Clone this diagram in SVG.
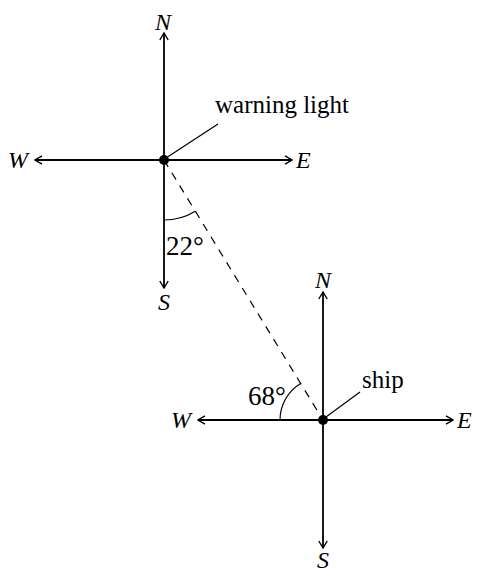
<svg xmlns="http://www.w3.org/2000/svg" width="477" height="573" viewBox="0 0 477 573">
<defs>
<marker id="ah" viewBox="0 0 10 10" refX="9" refY="5" markerWidth="10" markerHeight="10" markerUnits="userSpaceOnUse" orient="auto">
<path d="M2,0.8 L9,5 L2,9.2" fill="none" stroke="#000" stroke-width="1.4"/>
</marker>
<style>
.ax{stroke:#000;stroke-width:1.8;fill:none;marker-end:url(#ah)}
.dir{font-family:"Liberation Serif",serif;font-style:italic;font-size:24px;fill:#000}
.lbl{font-family:"Liberation Serif",serif;font-size:25px;fill:#000}
.ang{font-family:"Liberation Serif",serif;font-size:27px;fill:#000}
.thin{stroke:#000;stroke-width:1.2;fill:none}
</style>
</defs>
<rect width="477" height="573" fill="#fff"/>
<g id="warning-light">
<line class="ax" x1="164" y1="160" x2="164" y2="33"/>
<line class="ax" x1="164" y1="160" x2="164" y2="288"/>
<line class="ax" x1="164" y1="160" x2="35" y2="160"/>
<line class="ax" x1="164" y1="160" x2="292" y2="160"/>
<circle cx="164" cy="160" r="5" fill="#000"/>
<text class="dir" x="163" y="30" text-anchor="middle">N</text>
<text class="dir" x="164" y="310" text-anchor="middle">S</text>
<text class="dir" x="8" y="168">W</text>
<text class="dir" x="296" y="168">E</text>
<line class="thin" x1="166" y1="158" x2="218" y2="124"/>
<text class="lbl" x="215" y="113">warning light</text>
<path class="thin" d="M164,220 A60,60 0 0 0 195.3,211.2"/>
<text class="ang" x="166" y="255">22°</text>
</g>
<g id="ship">
<line class="ax" x1="323" y1="420" x2="323" y2="292"/>
<line class="ax" x1="323" y1="420" x2="323" y2="548"/>
<line class="ax" x1="323" y1="420" x2="198" y2="420"/>
<line class="ax" x1="323" y1="420" x2="453" y2="420"/>
<circle cx="323" cy="420" r="5" fill="#000"/>
<text class="dir" x="323" y="288" text-anchor="middle">N</text>
<text class="dir" x="323" y="568" text-anchor="middle">S</text>
<text class="dir" x="171" y="428">W</text>
<text class="dir" x="457" y="428">E</text>
<line class="thin" x1="326" y1="417" x2="360" y2="392"/>
<text class="lbl" x="362" y="388">ship</text>
<path class="thin" d="M280,420 A43,43 0 0 1 300.6,383.4"/>
<text class="ang" x="248" y="405">68°</text>
</g>
<g id="connectors">
<line x1="164" y1="160" x2="323" y2="420" stroke="#000" stroke-width="1.2" stroke-dasharray="8,7"/>
</g>
</svg>
